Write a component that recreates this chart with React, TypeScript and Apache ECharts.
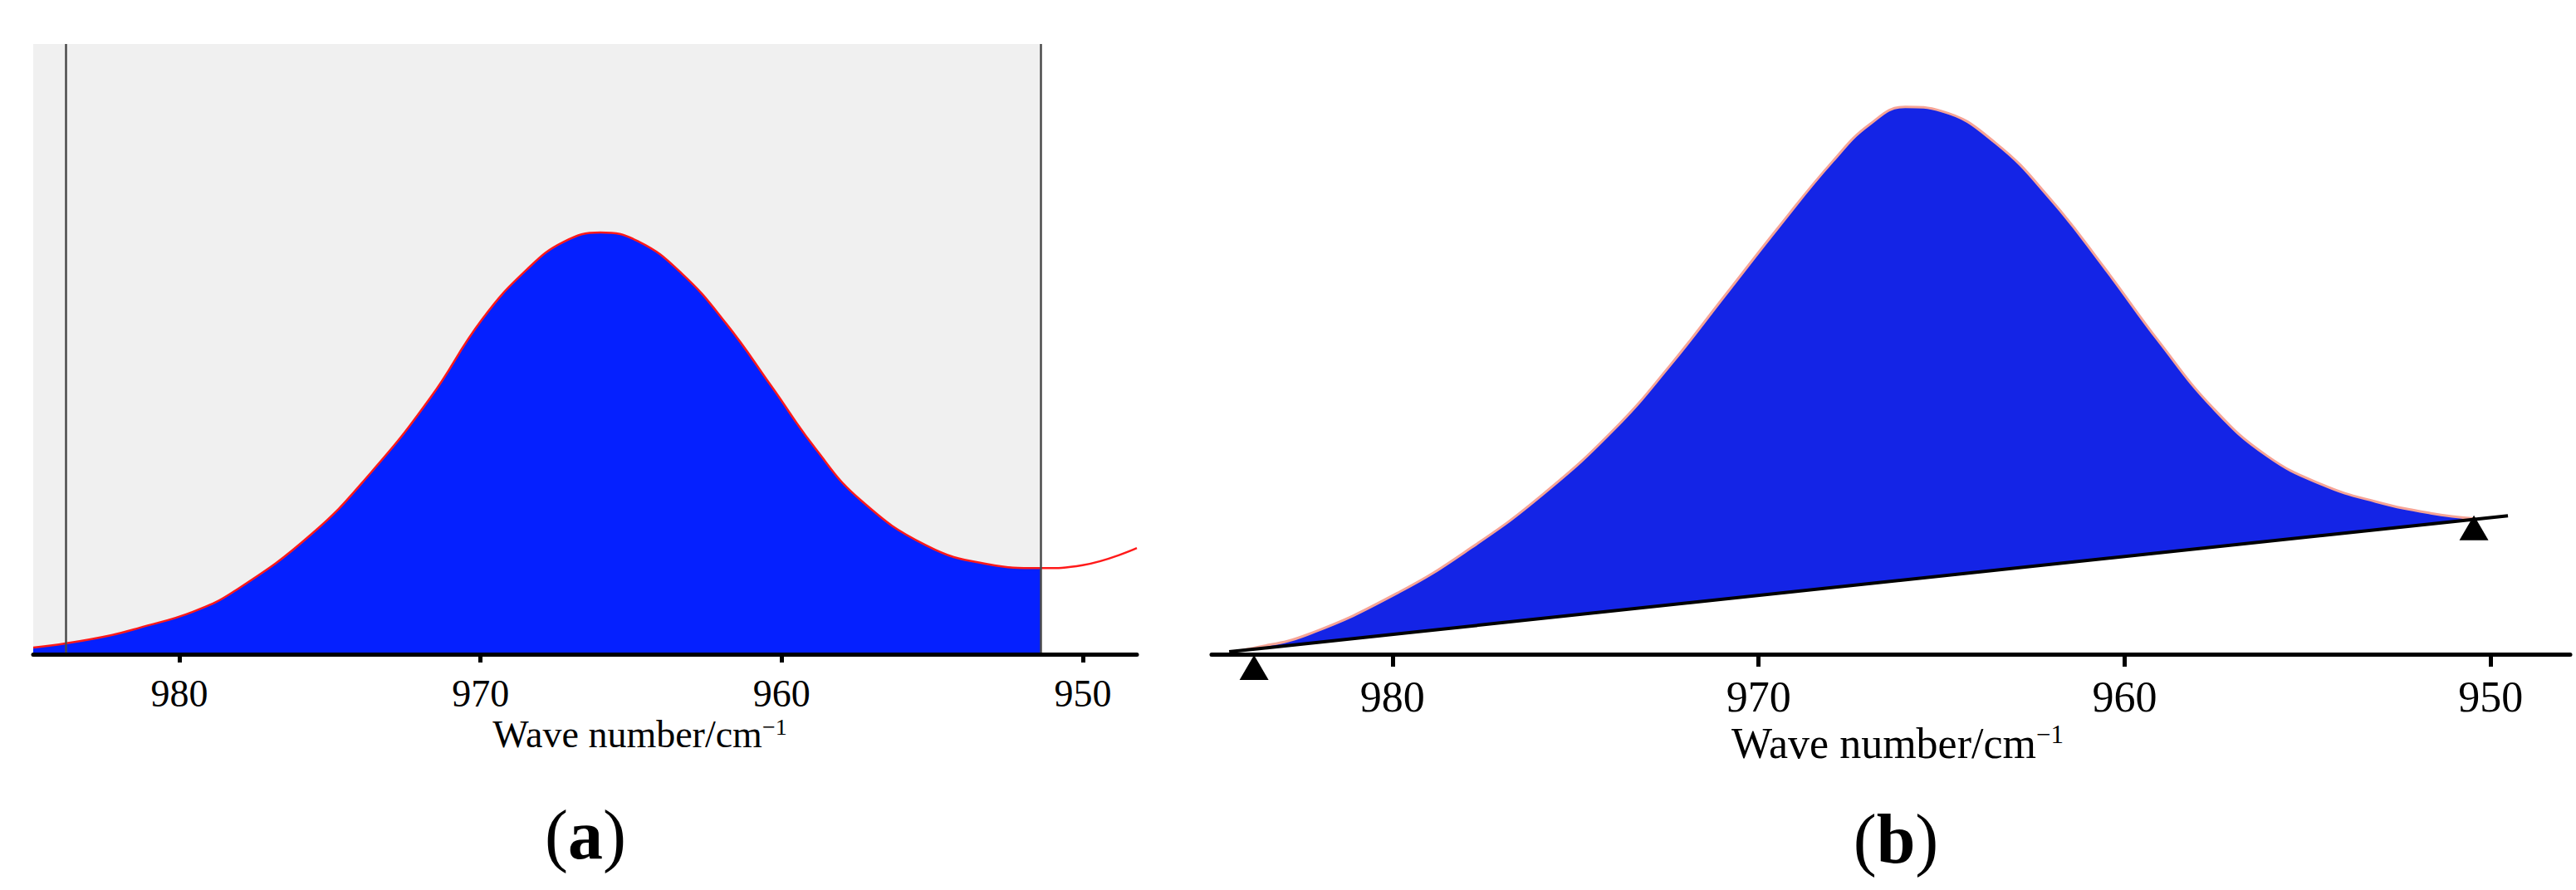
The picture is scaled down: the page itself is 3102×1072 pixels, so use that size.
import React, { useEffect, useRef } from "react";
import * as echarts from "echarts";

// ---------- data ----------
const tickValues = [980, 970, 960, 950];

// panel (a): measured spectrum (wave number / absorbance, arbitrary units)
const waveA = [984.85, 983.74, 982.28, 981.34, 979.53, 978.15, 975.61, 973.65, 971.67, 969.96, 968.47, 967.23, 966.02, 964.78, 963.32, 961.83, 960.34, 958.88, 957.39, 955.19, 953.2, 951.41, 950.01, 948.21];
const absA = [0.011, 0.018, 0.031, 0.043, 0.07, 0.104, 0.197, 0.297, 0.42, 0.548, 0.63, 0.676, 0.691, 0.677, 0.624, 0.541, 0.439, 0.337, 0.253, 0.178, 0.148, 0.141, 0.146, 0.174];
const limitsA = [983.77, 951.41]; // integration limits (vertical lines)
const axisRangeA = [948.21, 984.85];

// panel (b): spectrum with sloping baseline
const waveB = [984.46, 983.81, 982.33, 979.84, 977.86, 975.89, 973.92, 972.42, 970.94, 969.45, 967.97, 966.97, 965.99, 965.0, 963.53, 962.03, 960.55, 959.06, 957.58, 956.11, 954.61, 953.14, 951.64, 950.41];
const absB = [0.004, 0.01, 0.032, 0.101, 0.174, 0.262, 0.37, 0.473, 0.586, 0.7, 0.808, 0.868, 0.897, 0.89, 0.838, 0.746, 0.633, 0.512, 0.403, 0.325, 0.278, 0.25, 0.231, 0.222];
const baselineWave = [984.46, 949.53];
const baselineAbs = [0.004, 0.227];
const markerWave = [983.78, 950.46];
const markerAbs = [0, 0.229];
const axisRangeB = [947.83, 984.94];

const axisName = "{n|Wave number/cm}{s|\u22121}";

const SERIF = '"Liberation Serif", "Times New Roman", serif';

function zip(xs: number[], ys: number[]) {
  return xs.map((x, i) => [x, ys[i]]);
}

function makeXAxis(
  gridIndex: number,
  range: number[],
  fontSize: number,
  tickLen: number,
  margin: number,
  nameGap: number,
  namePadLeft: number
) {
  const supSize = Math.round(fontSize * 0.6);
  return {
    gridIndex,
    type: "value",
    min: range[0],
    max: range[1],
    inverse: true,
    z: 10,
    axisLine: { show: true, onZero: false, lineStyle: { color: "#000", width: 5 } },
    axisTick: {
      show: true,
      customValues: tickValues,
      length: tickLen,
      lineStyle: { color: "#000", width: 5 },
    },
    axisLabel: {
      show: true,
      customValues: tickValues,
      margin,
      fontSize,
      fontFamily: SERIF,
      color: "#000",
    },
    splitLine: { show: false },
    name: axisName,
    nameLocation: "middle",
    nameGap,
    nameMoveOverlap: false,
    nameTextStyle: {
      padding: [0, 0, 0, namePadLeft],
      rich: {
        n: { fontSize, fontFamily: SERIF, color: "#000", lineHeight: fontSize },
        s: {
          fontSize: supSize,
          fontFamily: SERIF,
          color: "#000",
          verticalAlign: "top",
          lineHeight: Math.round(fontSize * 0.34),
        },
      },
    },
  };
}

function makeYAxis(gridIndex: number) {
  return {
    gridIndex,
    type: "value",
    min: 0,
    max: 1,
    show: false,
    splitLine: { show: false },
  };
}

export default function App() {
  const ref = useRef<HTMLDivElement>(null);

  useEffect(() => {
    if (!ref.current) return;
    const chart = echarts.init(ref.current, undefined, { renderer: "svg" });

    const curveA = zip(waveA, absA);
    const fillA = curveA.filter((p) => p[0] >= limitsA[1] - 1e-9);
    const curveB = zip(waveB, absB);
    const smooth = 0.45;

    const option: any = {
      animation: false,
      backgroundColor: "#ffffff",
      grid: [
        { left: 40, top: 53, width: 1329, height: 735, outerBoundsMode: "none", containLabel: false },
        { left: 1459, top: 53, width: 1636, height: 735, outerBoundsMode: "none", containLabel: false },
      ],
      xAxis: [
        makeXAxis(0, axisRangeA, 46, 10, 24, 73, 132),
        makeXAxis(1, axisRangeB, 52, 15, 25, 81, 16),
      ],
      yAxis: [makeYAxis(0), makeYAxis(1)],
      series: [
        // (a) integration region + limits
        {
          type: "line",
          xAxisIndex: 0,
          yAxisIndex: 0,
          z: 1,
          silent: true,
          symbol: "none",
          data: [
            [limitsA[0], 0],
            [limitsA[1], 0],
          ],
          lineStyle: { opacity: 0 },
          markArea: {
            silent: true,
            itemStyle: { color: "#f0f0f0" },
            data: [[{ xAxis: axisRangeA[1], yAxis: 0 }, { xAxis: limitsA[1], yAxis: 1 }]],
          },
          markLine: {
            silent: true,
            symbol: ["none", "none"],
            label: { show: false },
            lineStyle: { color: "#4a4a4a", width: 2.5, type: "solid" },
            data: [{ xAxis: limitsA[0] }, { xAxis: limitsA[1] }],
          },
        },
        // (a) integrated area
        {
          type: "line",
          xAxisIndex: 0,
          yAxisIndex: 0,
          z: 2,
          silent: true,
          symbol: "none",
          smooth,
          data: fillA,
          lineStyle: { width: 0 },
          areaStyle: { color: "#0520ff", opacity: 1 },
        },
        // (a) spectrum
        {
          type: "line",
          xAxisIndex: 0,
          yAxisIndex: 0,
          z: 3,
          silent: true,
          symbol: "none",
          smooth,
          data: curveA,
          lineStyle: { color: "#ff1a1a", width: 2.5 },
        },
        // (b) area under spectrum
        {
          type: "line",
          xAxisIndex: 1,
          yAxisIndex: 1,
          z: 2,
          silent: true,
          symbol: "none",
          smooth,
          data: curveB,
          lineStyle: { width: 0 },
          areaStyle: { color: "#1424e6", opacity: 1 },
        },
        // (b) spectrum outline
        {
          type: "line",
          xAxisIndex: 1,
          yAxisIndex: 1,
          z: 3,
          silent: true,
          symbol: "none",
          smooth,
          data: curveB,
          lineStyle: { color: "#f6a496", width: 3 },
        },
        // (b) baseline (masks area below it)
        {
          type: "line",
          xAxisIndex: 1,
          yAxisIndex: 1,
          z: 4,
          silent: true,
          symbol: "none",
          data: zip(baselineWave, baselineAbs),
          lineStyle: { color: "#000", width: 4 },
          areaStyle: { color: "#ffffff", opacity: 1 },
        },
        // (b) baseline anchor markers
        {
          type: "scatter",
          xAxisIndex: 1,
          yAxisIndex: 1,
          z: 12,
          silent: true,
          clip: false,
          symbol: "triangle",
          symbolSize: [35, 30],
          symbolOffset: [0, 16],
          itemStyle: { color: "#000", opacity: 1 },
          data: zip(markerWave, markerAbs),
        },
      ],
      graphic: [
        {
          type: "text",
          x: 705,
          y: 1005,
          silent: true,
          style: {
            text: "{p|(}{b|a}{p|)}",
            textAlign: "center",
            textVerticalAlign: "middle",
            rich: {
              p: { fontSize: 84, fontFamily: SERIF, fill: "#000", color: "#000" },
              b: { fontSize: 84, fontFamily: SERIF, fontWeight: "bold", fill: "#000", color: "#000" },
            },
          },
        },
        {
          type: "text",
          x: 2283,
          y: 1010,
          silent: true,
          style: {
            text: "{p|(}{b|b}{p|)}",
            textAlign: "center",
            textVerticalAlign: "middle",
            rich: {
              p: { fontSize: 84, fontFamily: SERIF, fill: "#000", color: "#000" },
              b: { fontSize: 84, fontFamily: SERIF, fontWeight: "bold", fill: "#000", color: "#000" },
            },
          },
        },
      ],
    };

    chart.setOption(option);
    return () => {
      chart.dispose();
    };
  }, []);

  return (
    <div
      ref={ref}
      style={{ position: "absolute", left: 0, top: 0, width: 3102, height: 1072, background: "#fff" }}
    />
  );
}
